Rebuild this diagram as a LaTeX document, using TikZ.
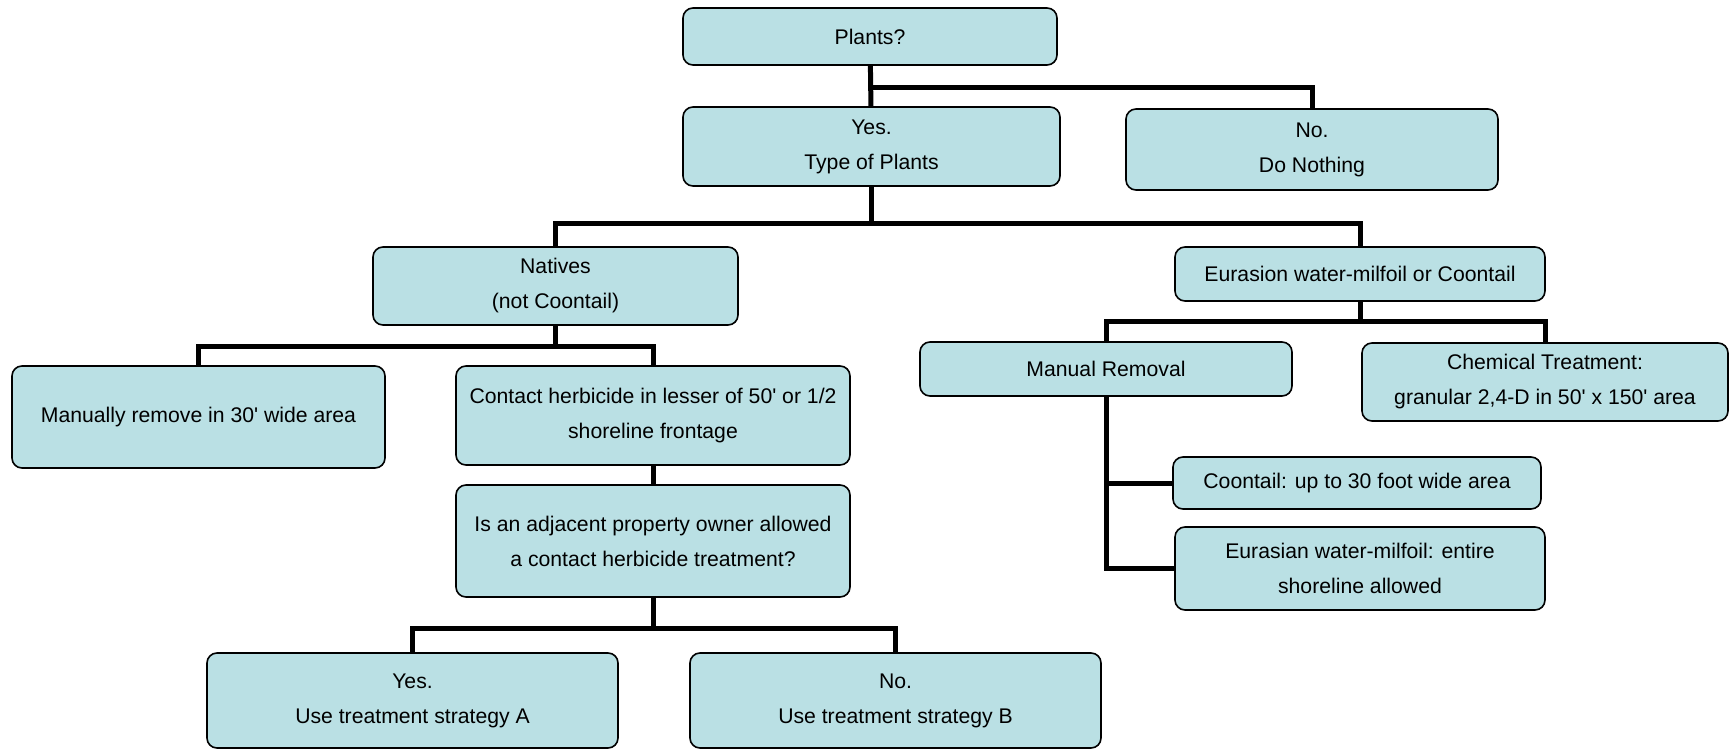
\documentclass[tikz,border=0pt]{standalone}
\usepackage{fontspec}
\usepackage{tikz}
\usetikzlibrary{positioning}
\newfontfamily\boxfont{Liberation Sans}
\definecolor{boxfill}{HTML}{BAE0E4}
\tikzset{
  plan box/.style = {draw=black, fill=boxfill, rounded corners=5pt, line width=0.8pt,
                     align=center, inner sep=0pt,
                     font=\boxfont\fontsize{10.6}{17.5}\selectfont},
  box size/.style 2 args = {minimum width=#1*0.5pt, minimum height=#2*0.5pt},
  link/.style = {black, line width=2.5pt},
}
\begin{document}
\begin{tikzpicture}[x=0.5pt, y=-0.5pt]
  \useasboundingbox (0,0) rectangle (1730,749);
  % top levels
  \node[plan box, box size={374}{57}] (plants) at (870,36.5) {Plants?};
  \node[plan box, box size={377}{79}] (yes) at (871.5,146.5) {Yes.\\Type of Plants};
  \node[plan box, box size={372}{81}] (no) at (1312,149.5) {No.\\Do Nothing};
  \node[plan box, box size={365}{78}] (natives) at (555.5,286) {Natives\\(not Coontail)};
  \node[plan box, box size={370}{54}] (eurasion) at (1360,274) {Eurasion water-milfoil or Coontail};
  % natives branch
  \node[plan box, box size={373}{102}] (manually) at (198.5,417) {Manually remove in 30' wide area};
  \node[plan box, box size={394}{99}] (contact) at (653,415.5)
    {Contact herbicide in lesser of 50' or 1/2\\shoreline frontage};
  \node[plan box, box size={394}{112}] (adjacent) at (653,541)
    {Is an adjacent property owner allowed\\a contact herbicide treatment?};
  \node[plan box, box size={411}{95}] (strategyA) at (412.5,700.5) {Yes.\\Use treatment strategy A};
  \node[plan box, box size={411}{95}] (strategyB) at (895.5,700.5) {No.\\Use treatment strategy B};
  % eurasion branch
  \node[plan box, box size={372}{54}] (manual) at (1106,369) {Manual Removal};
  \node[plan box, box size={366}{78}] (chemical) at (1545,382)
    {Chemical Treatment:\\granular 2,4-D in 50' x 150' area};
  \node[plan box, box size={368}{52}] (coontail) at (1357,483) {Coontail: up to 30 foot wide area};
  \node[plan box, box size={370}{83}] (eurasian) at (1360,568.5)
    {Eurasian water-milfoil: entire\\shoreline allowed};
  % connectors
  \draw[link] (plants) -- (yes);
  \draw[link] (plants.south) -- ++(0,22) -| (no.north);
  \draw[link] (yes.south) -- ++(0,37) -| (natives.north);
  \draw[link] (yes.south) -- ++(0,37) -| (eurasion.north);
  \draw[link] (natives.south) -- ++(0,21) -| (manually.north);
  \draw[link] (natives.south) -- ++(0,21) -| (contact.north);
  \draw[link] (contact) -- (adjacent);
  \draw[link] (adjacent.south) -- ++(0,31) -| (strategyA.north);
  \draw[link] (adjacent.south) -- ++(0,31) -| (strategyB.north);
  \draw[link] (eurasion.south) -- ++(0,20) -| (manual.north);
  \draw[link] (eurasion.south) -- ++(0,20) -| (chemical.north);
  \draw[link] (manual.south) |- (coontail.west);
  \draw[link] (manual.south) |- (eurasian.west);
\end{tikzpicture}
\end{document}
